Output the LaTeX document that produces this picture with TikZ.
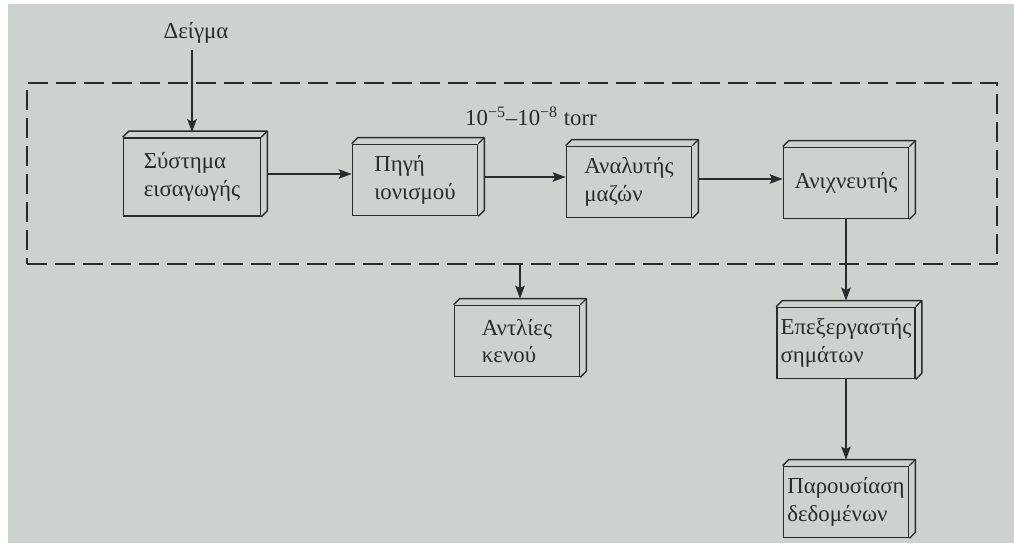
\documentclass[tikz,border=0pt]{standalone}
\usepackage{fontspec}
\setmainfont{Liberation Serif}
\usepackage{tikz}
\usetikzlibrary{arrows.meta,calc}
\definecolor{msInk}{RGB}{40,44,44}
\definecolor{msPaper}{RGB}{206,210,207}

% top and right faces of a block
\newcommand{\slab}[1]{%
  \draw[face] (#1.north west) -- ++(6,-6) -- ($(#1.north east)+(6,-6)$) -- ($(#1.south east)+(6,-6)$) -- (#1.south east);
  \draw[face] (#1.north east) -- ++(6,-6);}

\begin{document}
\begin{tikzpicture}[
  x=0.02cm, y=-0.02cm,
  font=\fontsize{13}{15.5}\selectfont,
  stage/.style={draw=msInk, line width=1pt, align=left, text=msInk, inner sep=2pt, minimum width=2.5cm, minimum height=1.42cm},
  face/.style={draw=msInk, line width=0.8pt, line join=round},
  arr/.style={-{Stealth[length=2.6mm, width=1.9mm, inset=0.5mm]}, draw=msInk, line width=0.8pt},
  vacframe/.style={draw=msInk, line width=1.1pt, dash pattern=on 4mm off 1.6mm, inner sep=0pt},
  lbl/.style={text=msInk}
]

% paper
\fill[white] (0,0) rectangle (1014,543);
\fill[msPaper] (8,4) rectangle (1014,543);
\useasboundingbox (0,0) rectangle (1014,543);

% Vacuum region
\node[vacframe, minimum width=19.4cm, minimum height=3.62cm] (vac) at (512,173.5) {};
\node[lbl] (press) at (531,116) {10\textsuperscript{−5}–10\textsuperscript{−8} torr};

% Blocks
\node[stage, minimum width=2.74cm, minimum height=1.56cm] (intro) at (192,177) {Σύστημα\\εισαγωγής};
\node[stage] (source) at (415,180) {Πηγή\\ιονισμού};
\node[stage] (analyser) at (629,182) {Αναλυτής\\μαζών};
\node[stage] (detector) at (846,183) {Ανιχνευτής};
\node[stage] (pumps) at (517,341) {Αντλίες\\κενού};
\node[stage] (processor) at (846,343) {Επεξεργαστής\\σημάτων};
\node[stage] (display) at (846,502) {Παρουσίαση\\δεδομένων};
\slab{intro}
\slab{source}
\slab{analyser}
\slab{detector}
\slab{pumps}
\slab{processor}
\slab{display}

\node[lbl] (sample) at (196,33) {Δείγμα};

% Arrows
\draw[arr] (sample.south -| intro.north) -- ($(intro.north)+(0,-5)$);
\draw[arr] ($(intro.east)+(6,-3)$) -- ($(intro.east -| source.west)+(0,-3)$);
\draw[arr] ($(source.east)+(6,-3)$) -- ($(source.east -| analyser.west)+(0,-3)$);
\draw[arr] ($(analyser.east)+(6,-3)$) -- ($(analyser.east -| detector.west)+(0,-3)$);
\draw[arr] (detector.south) -- ($(processor.north)+(0,-6)$);
\draw[arr] (processor.south) -- ($(display.north)+(0,-6)$);
\draw[arr] ($(vac.south -| pumps.north)+(3,0)$) -- ($(pumps.north)+(3,-6)$);

\end{tikzpicture}
\end{document}
